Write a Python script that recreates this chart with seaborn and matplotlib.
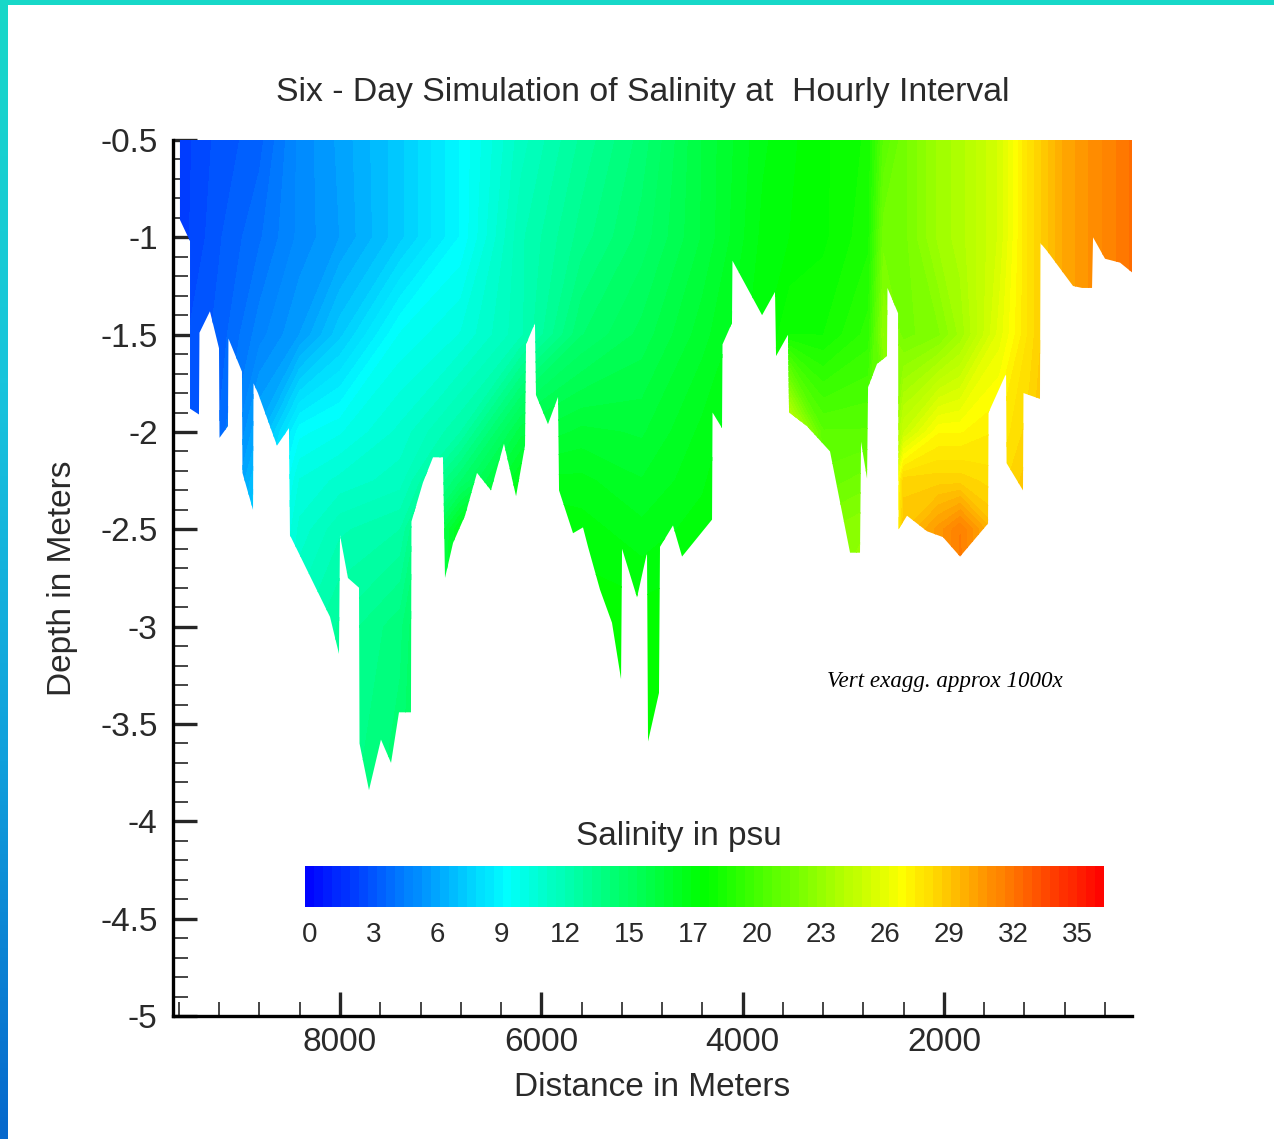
import numpy as np
import seaborn as sns
import matplotlib.pyplot as plt
from matplotlib.patches import Polygon, Rectangle
from matplotlib.ticker import FixedLocator, FixedFormatter

# channel bottom: distance (m) and depth (m), walked from the head to the mouth
bottom_distance = [
    9590, 9590, 9490, 9490, 9401, 9396, 9292, 9202, 9197, 9113, 9108, 8974, 8969, 8864, 8859,
    8815, 8626, 8507, 8497, 8099, 8010, 8000, 7921, 7811, 7806, 7712, 7593, 7493, 7414, 7295,
    7290, 7176, 7076, 6977, 6957, 6877, 6758, 6639, 6500, 6371, 6251, 6162, 6152, 6063, 6053,
    5934, 5834, 5824, 5685, 5586, 5536, 5417, 5298, 5208, 5198, 5049, 4950, 4940, 4831, 4821,
    4692, 4602, 4304, 4299, 4205, 4200, 4106, 4101, 3807, 3678, 3668, 3549, 3539, 3361, 3132,
    2933, 2834, 2824, 2764, 2754, 2665, 2566, 2561, 2456, 2451, 2367, 2168, 2010, 1840, 1562,
    1557, 1383, 1378, 1215, 1210, 1046, 1041, 976, 718, 628, 529, 519, 400, 251, 132,
]
bottom_depth = [
    -0.50, -0.91, -1.02, -1.88, -1.91, -1.49, -1.38, -1.57, -2.03, -1.97, -1.52, -1.69, -2.21, -2.40, -1.75,
    -1.80, -2.07, -1.98, -2.53, -2.95, -3.14, -2.53, -2.75, -2.80, -3.60, -3.84, -3.58, -3.70, -3.44, -3.44,
    -2.46, -2.26, -2.13, -2.13, -2.75, -2.57, -2.43, -2.21, -2.30, -2.06, -2.33, -2.07, -1.55, -1.44, -1.81,
    -1.96, -1.82, -2.30, -2.52, -2.49, -2.59, -2.81, -2.98, -3.27, -2.60, -2.85, -2.62, -3.59, -3.34, -2.59,
    -2.48, -2.64, -2.45, -1.90, -1.98, -1.55, -1.44, -1.12, -1.40, -1.28, -1.61, -1.50, -1.90, -1.97, -2.10,
    -2.62, -2.62, -2.05, -2.24, -1.77, -1.65, -1.61, -1.26, -1.39, -2.50, -2.43, -2.51, -2.54, -2.64, -2.47,
    -1.90, -1.70, -2.16, -2.30, -1.80, -1.83, -1.03, -1.07, -1.25, -1.26, -1.26, -1.00, -1.11, -1.13, -1.18,
]

station_distance = [9590, 9200, 8800, 8400, 8000, 7400, 6800, 6200, 5600, 5000, 4400,
                    3800, 3530, 3200, 2750, 2600, 2400, 2050, 1840, 1450, 1150, 800, 130]
depth_levels = [-0.5, -1.0, -1.5, -2.0, -2.25, -2.5, -3.0, -4.0]
salinity_050 = [2.0, 2.8, 3.3, 4.8, 5.6, 7.0, 8.8, 11.0, 12.5, 13.8, 15.7, 17.2, 17.6, 18.0, 18.6, 21.0, 22.0, 23.5, 24.0, 25.5, 28.0, 30.0, 32.0]
salinity_100 = [2.0, 3.0, 3.8, 4.8, 5.5, 7.0, 8.8, 11.5, 13.0, 14.2, 15.7, 17.4, 17.7, 18.0, 18.8, 22.0, 22.0, 23.5, 24.0, 25.5, 28.0, 30.0, 32.0]
salinity_150 = [2.5, 3.2, 4.5, 5.5, 7.0, 9.2, 10.0, 11.5, 14.0, 15.0, 16.3, 17.6, 18.5, 18.5, 19.5, 23.0, 22.0, 22.5, 23.5, 26.0, 28.0, 30.0, 32.0]
salinity_200 = [2.5, 3.5, 6.0, 9.0, 9.5, 10.5, 12.0, 15.5, 16.2, 16.0, 17.0, 18.0, 25.5, 21.0, 21.0, 21.0, 25.0, 27.0, 27.0, 27.5, 28.5, 30.0, 32.0]
salinity_225 = [3.0, 4.0, 7.0, 10.0, 10.5, 11.0, 14.0, 17.0, 17.0, 16.5, 17.2, 18.5, 24.0, 21.5, 22.0, 22.0, 28.5, 28.5, 28.5, 28.0, 29.0, 30.0, 32.0]
salinity_250 = [3.0, 4.0, 8.0, 10.5, 11.5, 12.0, 17.0, 18.0, 17.5, 17.0, 17.5, 19.0, 23.0, 22.5, 23.0, 23.0, 29.0, 30.5, 31.5, 29.0, 29.0, 30.0, 32.0]
salinity_300 = [3.0, 4.0, 8.0, 11.5, 12.5, 13.5, 17.0, 18.0, 18.0, 18.0, 18.0, 19.0, 23.0, 23.0, 23.0, 23.0, 30.0, 30.0, 32.0, 29.0, 29.0, 30.0, 32.0]
salinity_400 = [3.0, 4.0, 8.0, 12.0, 13.0, 14.0, 17.0, 18.0, 18.0, 18.0, 18.0, 19.0, 23.0, 23.0, 23.0, 23.0, 30.0, 30.0, 32.0, 29.0, 29.0, 30.0, 32.0]

# colour bar ticks and axis labels
cbar_ticks = [0, 2.9, 5.8, 8.7, 11.6, 14.5, 17.4, 20.3, 23.2, 26.1, 29, 31.9, 34.8]
cbar_labels = ["0", "3", "6", "9", "12", "15", "17", "20", "23", "26", "29", "32", "35"]
depth_ticks = [-0.5, -1, -1.5, -2, -2.5, -3, -3.5, -4, -4.5, -5]
depth_labels = ["-0.5", "-1", "-1.5", "-2", "-2.5", "-3", "-3.5", "-4", "-4.5", "-5"]
distance_ticks = [8000, 6000, 4000, 2000]
distance_labels = ["8000", "6000", "4000", "2000"]

W, H = 1274, 1139
TEXT = "#2a2a2a"

sns.set_style("white")
plt.rcParams["font.family"] = ["Liberation Sans", "DejaVu Sans"]

fig = plt.figure(figsize=(W / 100, H / 100), dpi=100)


def box(left, top, right, bottom):
    # pixel box to figure fractions
    return [left / W, 1 - bottom / H, (right - left) / W, (bottom - top) / H]


# slide border
border = sns.blend_palette(["#17d8c8", "#18c4dc", "#10a0dc", "#0668cc"], as_cmap=True)
border_ax = fig.add_axes(box(0, 0, 8, H))
border_ax.imshow(np.linspace(0, 1, 256).reshape(-1, 1), cmap=border, aspect="auto")
border_ax.axis("off")
fig.add_artist(Rectangle((0, 1 - 5 / H), 1, 5 / H, transform=fig.transFigure, color="#17d8c8", lw=0))

ax = fig.add_axes(box(173, 140, 1132, 1016))

salinity_grid = np.array([salinity_050, salinity_100, salinity_150, salinity_200,
                          salinity_225, salinity_250, salinity_300, salinity_400])
rainbow = sns.blend_palette(["#0000ff", "#00ffff", "#00ff00", "#ffff00", "#ff0000"], n_colors=256, as_cmap=True)
levels = np.linspace(-0.2, 36, 90)
filled = ax.contourf(station_distance, depth_levels, salinity_grid, levels=levels, cmap=rainbow)

# keep the colour inside the channel section
outline = list(zip(bottom_distance, bottom_depth)) + [(132, -0.5)]
filled.set_clip_path(Polygon(outline, closed=True, transform=ax.transData))

ax.set_xlim(9659, 132)
ax.set_ylim(-5, -0.5)
sns.despine(ax=ax)
for side in ["left", "bottom"]:
    ax.spines[side].set_linewidth(2.4)
    ax.spines[side].set_color("black")

ax.yaxis.set_major_locator(FixedLocator(depth_ticks))
ax.yaxis.set_major_formatter(FixedFormatter(depth_labels))
ax.yaxis.set_minor_locator(FixedLocator(np.arange(-5, -0.45, 0.1)))
ax.xaxis.set_major_locator(FixedLocator(distance_ticks))
ax.xaxis.set_major_formatter(FixedFormatter(distance_labels))
ax.xaxis.set_minor_locator(FixedLocator(np.arange(400, 9700, 400)))

ax.tick_params(axis="y", which="major", direction="in", length=17, width=2.4, pad=11, labelsize=24, labelcolor=TEXT, left=True)
ax.tick_params(axis="y", which="minor", direction="in", length=11, width=1.2, left=True)
ax.tick_params(axis="x", which="major", direction="in", length=17, width=2.4, pad=8, labelsize=24, labelcolor=TEXT, bottom=True)
ax.tick_params(axis="x", which="minor", direction="in", length=10, width=1.2, bottom=True)

fig.text(643 / W, 1 - 92 / H, "Six - Day Simulation of Salinity at  Hourly Interval",
         fontsize=24.3, color=TEXT, ha="center", va="center")
fig.text(62 / W, 1 - 578 / H, "Depth in Meters", fontsize=24, color=TEXT, rotation=90, ha="center", va="center")
fig.text(652 / W, 1 - 1087 / H, "Distance in Meters", fontsize=24, color=TEXT, ha="center", va="center")
fig.text(679 / W, 1 - 837 / H, "Salinity in psu", fontsize=24, color=TEXT, ha="center", va="center")
fig.text(945 / W, 1 - 682 / H, "Vert exagg. approx 1000x", fontsize=16.6, color="black",
         family="Liberation Serif", style="italic", ha="center", va="center")

cax = fig.add_axes(box(305, 866, 1104, 907))
cbar = fig.colorbar(filled, cax=cax, orientation="horizontal", ticks=cbar_ticks)
cbar.ax.set_xticklabels(cbar_labels)
cbar.ax.tick_params(length=0, pad=11, labelsize=20, labelcolor=TEXT)
cbar.outline.set_visible(False)

fig.savefig("out.png", dpi=100)
